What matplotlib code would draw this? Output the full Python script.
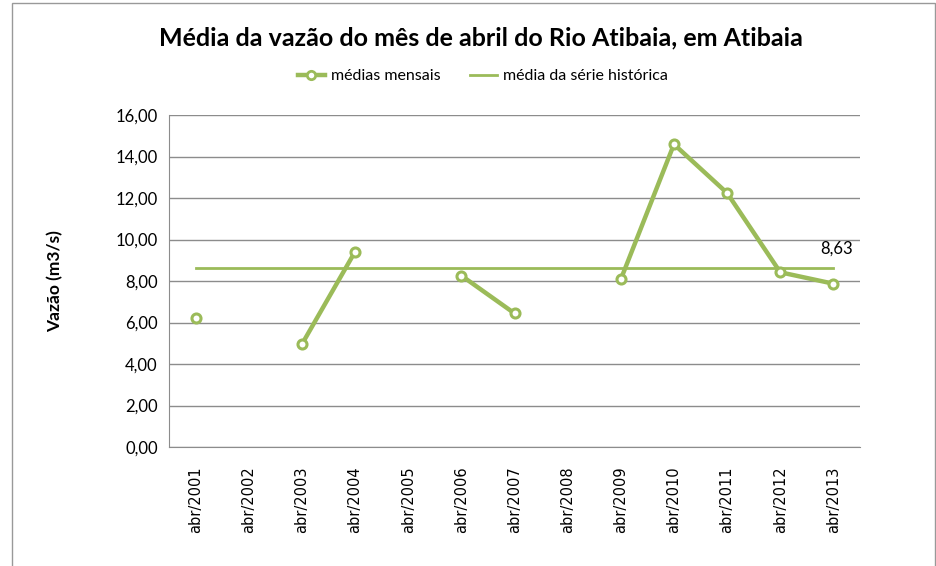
import matplotlib
matplotlib.use("Agg")
import matplotlib.pyplot as plt
import numpy as np
from matplotlib.lines import Line2D
from matplotlib.patches import Rectangle

categories = ["abr/2001", "abr/2002", "abr/2003", "abr/2004", "abr/2005", "abr/2006",
              "abr/2007", "abr/2008", "abr/2009", "abr/2010", "abr/2011", "abr/2012", "abr/2013"]
medias_mensais = [6.20, np.nan, 4.95, 9.41, np.nan, 8.26, 6.44, np.nan, 8.08, 14.59, 12.24, 8.42, 7.87]
media_historica = 8.63
yticks = [0, 2, 4, 6, 8, 10, 12, 14, 16]

green = "#9BBB59"
narrow = ["Lato", "DejaVu Sans"]

fig = plt.figure(figsize=(9.37, 5.66), dpi=100)
ax = fig.add_axes([169/937, 1-447/566, (860-169)/937, (447-115)/566])

x = np.arange(len(categories))
ax.plot(x, medias_mensais, color=green, lw=3.2, marker="o", ms=6.5,
        mfc="white", mec=green, mew=2.2, zorder=3)
ax.plot([x[0], x[-1]], [media_historica]*2, color=green, lw=2, zorder=2)
ax.text(x[-1]+0.05, media_historica+0.55, "8,63", ha="center", va="bottom",
        fontsize=12, family=narrow)

ax.set_xlim(-0.5, len(categories)-0.5)
ax.set_ylim(0, 16)
ax.set_yticks(yticks)
ax.set_yticklabels([f"{v:.2f}".replace(".", ",") for v in yticks], family=narrow, fontsize=12)
ax.set_xticks(x)
ax.set_xticklabels(categories, rotation=90, fontsize=10.5)
for lbl in ax.get_xticklabels():
    lbl.set_fontfamily("DejaVu Sans")
ax.tick_params(axis="both", length=0, pad=8)
ax.tick_params(axis="x", pad=14)
ax.grid(axis="y", color="#8c8c8c", lw=1)
ax.set_axisbelow(True)
for s in ["top", "right"]:
    ax.spines[s].set_visible(False)
for s in ["left", "bottom"]:
    ax.spines[s].set_color("#8c8c8c")
ax.set_ylabel("Vazão (m3/s)", fontsize=12.5, fontweight="bold", family=narrow, labelpad=38)

fig.text(481/937, 1-38/566, "Média da vazão do mês de abril do Rio Atibaia, em Atibaia",
         ha="center", va="center", fontsize=18, fontweight="bold", family=narrow)

handles = [Line2D([], [], color=green, lw=3.2, marker="o", ms=6, mfc="white", mec=green, mew=2),
           Line2D([], [], color=green, lw=2)]
fig.legend(handles, ["médias mensais", "média da série histórica"], loc="center",
           bbox_to_anchor=(483/937, 1-76/566), ncol=2, frameon=False, handlelength=1.7,
           columnspacing=1.8, prop={"family": narrow, "size": 11.5}, handletextpad=0.4)

fig.add_artist(Rectangle((12/937, -0.02), (935-12)/937, 1-3/566+0.02, transform=fig.transFigure,
                         fill=False, edgecolor="#999999", lw=1))

fig.savefig("out.png", dpi=100)
